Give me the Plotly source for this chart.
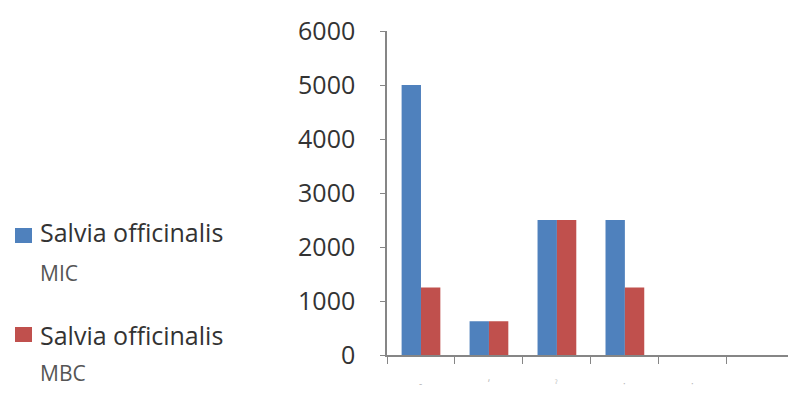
import plotly.graph_objects as go

categories = [0, 1, 2, 3, 4, 5]
cat_labels = ["-", "\u02bc", "\u02c0", "\u00b7", "\u00b7", ""]
mic_values = [5000, 625, 2500, 2500, None, None]
mbc_values = [1250, 625, 2500, 1250, None, None]
series_names = ["Salvia officinalis MIC", "Salvia officinalis MBC"]
y_ticks = [0, 1000, 2000, 3000, 4000, 5000, 6000]

BLUE = "#4F81BD"
RED = "#C0504D"
AXIS = "#868686"

fig = go.Figure()
fig.add_trace(go.Bar(x=categories, y=mic_values, name=series_names[0],
                     marker=dict(color=BLUE, line=dict(width=0))))
fig.add_trace(go.Bar(x=categories, y=mbc_values, name=series_names[1],
                     marker=dict(color=RED, line=dict(width=0))))

L, R, T, B = 387, 0, 31, 40
W, H = 788, 395
pw = W - L - R
ph = H - T - B

def px(x):
    return (x - L) / pw

def py(y):
    return (H - B - y) / ph

fig.update_layout(
    width=W, height=H,
    margin=dict(l=L, r=R, t=T, b=B),
    paper_bgcolor="white", plot_bgcolor="white",
    barmode="group", bargap=0.43, bargroupgap=0,
    showlegend=False,
    font=dict(family="Open Sans", color="#404040"),
)
fig.update_xaxes(
    range=[-0.5, 5.4], tickvals=[c - 0.5 for c in categories] + [5.5],
    ticktext=[""] * 7, ticks="outside", ticklen=7, tickcolor=AXIS, tickwidth=1.2,
    showgrid=False, zeroline=False,
    showline=True, linecolor=AXIS, linewidth=1.5,
)
fig.update_yaxes(
    range=[0, 6000], tickvals=y_ticks, ticks="outside", ticklen=5,
    tickcolor=AXIS, tickwidth=1.2, showgrid=False, zeroline=False,
    showline=True, linecolor=AXIS, linewidth=1.5,
    tickfont=dict(size=25, color="#333333"), ticklabelstandoff=20,
)

# faint category labels below the axis
for c, lab in zip(categories, cat_labels):
    if lab:
        fig.add_annotation(xref="x", yref="paper", x=c, y=py(383), text=lab,
                           showarrow=False, xanchor="center", yanchor="middle",
                           font=dict(size=10, color="#b8b8b8"))

# legend drawn manually
legend_items = [
    (BLUE, "Salvia officinalis", "MIC", 228, 232, 273),
    (RED, "Salvia officinalis", "MBC", 327, 335, 373),
]
for color, line1, line2, sq_top, y1, y2 in legend_items:
    fig.add_shape(type="rect", xref="paper", yref="paper",
                  x0=px(15), x1=px(32), y0=py(sq_top + 15), y1=py(sq_top),
                  fillcolor=color, line=dict(width=0))
    fig.add_annotation(xref="paper", yref="paper", x=px(38), y=py(y1),
                       text=line1, showarrow=False, xanchor="left", yanchor="middle",
                       font=dict(size=25, color="#333333"))
    fig.add_annotation(xref="paper", yref="paper", x=px(38), y=py(y2),
                       text=line2, showarrow=False, xanchor="left", yanchor="middle",
                       font=dict(size=21, color="#555555"))

fig.write_html("out.html")
